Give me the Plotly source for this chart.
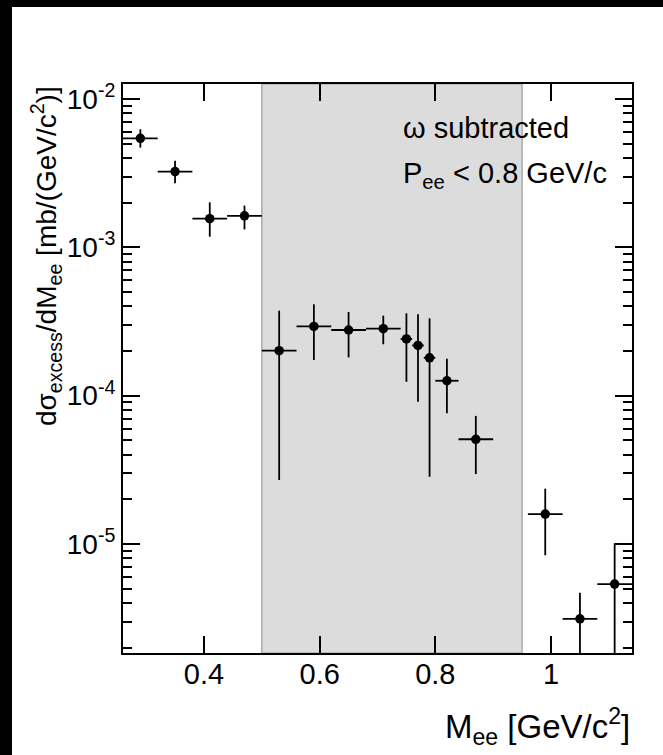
import plotly.graph_objects as go

# ---------------- data ----------------
x_center = [0.29, 0.35, 0.41, 0.47, 0.53, 0.59, 0.65, 0.71, 0.75, 0.77, 0.79,
            0.82, 0.87, 0.99, 1.05, 1.11]
x_halfwidth = [0.03, 0.03, 0.03, 0.03, 0.03, 0.03, 0.03, 0.03, 0.01, 0.01, 0.01,
               0.02, 0.03, 0.03, 0.03, 0.03]
y_value = [5.43e-3, 3.24e-3, 1.56e-3, 1.63e-3, 2.01e-4, 2.93e-4, 2.77e-4, 2.83e-4,
           2.41e-4, 2.18e-4, 1.80e-4, 1.26e-4, 5.08e-5, 1.59e-5, 3.13e-6, 5.37e-6]
y_upper = [6.25e-3, 3.84e-3, 2.01e-3, 1.91e-3, 3.74e-4, 4.13e-4, 3.66e-4, 3.46e-4,
           3.59e-4, 3.54e-4, 3.32e-4, 1.77e-4, 7.30e-5, 2.36e-5, 4.69e-6, 1.01e-5]
y_lower = [4.70e-3, 2.70e-3, 1.18e-3, 1.32e-3, 2.70e-5, 1.74e-4, 1.81e-4, 2.22e-4,
           1.24e-4, 9.10e-5, 2.84e-5, 7.60e-5, 2.96e-5, 8.40e-6, 1.0e-7, 1.0e-7]

band_range = [0.50, 0.95]

x_range = [0.26, 1.14]
y_log_range = [-5.735, -1.899]

x_tickvals = [0.4, 0.6, 0.8, 1.0]
x_ticktext = ["0.4", "0.6", "0.8", "1"]
y_tickvals = [1e-5, 1e-4, 1e-3, 1e-2]
y_ticktext = ["10<sup>-5</sup>", "10<sup>-4</sup>", "10<sup>-3</sup>", "10<sup>-2</sup>"]
y_minor_vals = [k * 10.0 ** e for e in range(-6, -2) for k in range(2, 10)]

x_title = "M<sub>ee</sub> [GeV/c<sup>2</sup>]"
y_title = "dσ<sub>excess</sub>/dM<sub>ee</sub> [mb/(GeV/c<sup>2</sup>)]"
label_lines = ["ω subtracted", "P<sub>ee</sub> &lt; 0.8 GeV/c"]

# ---------------- layout geometry ----------------
W, H = 663, 755
L, R, T, B = 123, 632, 84, 653
FONT = "Liberation Sans, Arial, Helvetica, sans-serif"


def px2x(px):
    return (px - L) / (R - L)


def py2y(py):
    return (B - py) / (B - T)


err_plus = [u - v for u, v in zip(y_upper, y_value)]
err_minus = [v - l for v, l in zip(y_value, y_lower)]

fig = go.Figure()
fig.add_trace(go.Scatter(
    x=x_center, y=y_value, mode="markers",
    marker=dict(symbol="circle", size=9.5, color="black"),
    error_x=dict(type="data", array=x_halfwidth, symmetric=True,
                 color="black", thickness=1.8, width=0),
    error_y=dict(type="data", array=err_plus, arrayminus=err_minus,
                 symmetric=False, color="black", thickness=1.8, width=0),
    showlegend=False, cliponaxis=True,
))

shapes = [
    dict(type="rect", xref="x", yref="paper", x0=band_range[0], x1=band_range[1],
         y0=0, y1=1, fillcolor="#dcdcdc", line=dict(color="#9a9a9a", width=1.2),
         layer="below"),
    # black strips of the original canvas
    dict(type="rect", xref="paper", yref="paper", x0=px2x(0), x1=px2x(12),
         y0=py2y(H), y1=py2y(0), fillcolor="black", line=dict(width=0)),
    dict(type="rect", xref="paper", yref="paper", x0=px2x(0), x1=px2x(W),
         y0=py2y(7), y1=py2y(0), fillcolor="black", line=dict(width=0)),
]

annotations = [
    dict(text=label_lines[0], xref="paper", yref="paper", x=px2x(401), y=py2y(128),
         xanchor="left", yanchor="middle", showarrow=False,
         font=dict(family=FONT, size=29, color="black")),
    dict(text=label_lines[1], xref="paper", yref="paper", x=px2x(401), y=py2y(175),
         xanchor="left", yanchor="middle", showarrow=False,
         font=dict(family=FONT, size=29, color="black")),
    dict(text=x_title, xref="paper", yref="paper", x=1.0, y=py2y(726),
         xanchor="right", yanchor="middle", showarrow=False,
         font=dict(family=FONT, size=33, color="black")),
    dict(text=y_title, xref="paper", yref="paper", x=px2x(46), y=1.0,
         xanchor="center", yanchor="top", showarrow=False, textangle=-90,
         font=dict(family=FONT, size=28, color="black")),
]

fig.update_layout(
    width=W, height=H,
    margin=dict(l=L, r=W - R, t=T, b=H - B, pad=0),
    paper_bgcolor="white", plot_bgcolor="white",
    font=dict(family=FONT, size=28, color="black"),
    shapes=shapes, annotations=annotations,
    xaxis=dict(range=x_range, tickvals=x_tickvals, ticktext=x_ticktext,
               ticks="inside", ticklen=17, tickwidth=2, tickcolor="black",
               ticklabelstandoff=-6,
               showline=True, linewidth=2, linecolor="black", mirror="ticks",
               showgrid=False, zeroline=False,
               tickfont=dict(family=FONT, size=29, color="black")),
    yaxis=dict(type="log", range=y_log_range, tickvals=y_tickvals, ticktext=y_ticktext,
               ticks="inside", ticklen=17, tickwidth=2, tickcolor="black",
               showline=True, linewidth=2, linecolor="black", mirror="ticks",
               showgrid=False, zeroline=False,
               tickfont=dict(family=FONT, size=28, color="black"),
               minor=dict(tickvals=y_minor_vals, ticks="inside", ticklen=9,
                          tickwidth=2, tickcolor="black", showgrid=False)),
)

fig.write_html("out.html")
